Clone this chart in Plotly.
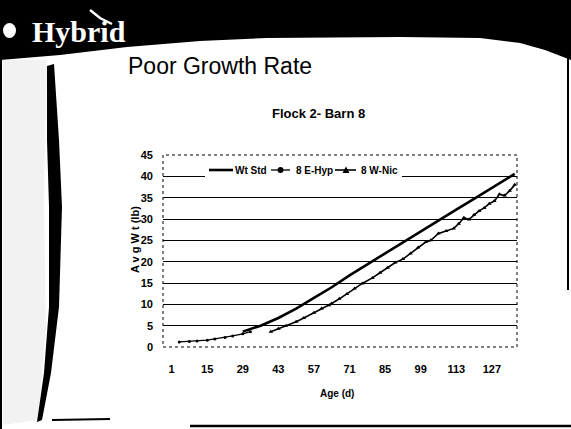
import plotly.graph_objects as go

# ---------------- data ----------------
x_tick_vals = [1, 15, 29, 43, 57, 71, 85, 99, 113, 127]
x_tick_text = ["1", "15", "29", "43", "57", "71", "85", "99", "113", "127"]
y_tick_vals = [0, 5, 10, 15, 20, 25, 30, 35, 40, 45]

std_days = [29, 36, 43, 50, 57, 64, 71, 78, 85, 92, 99, 106, 113, 120, 127, 134, 136]
std_wt = [3.6, 5.0, 6.8, 9.0, 11.5, 14.0, 16.8, 19.4, 22.0, 24.6, 27.1, 29.7, 32.2, 34.7, 37.3, 39.8, 40.6]

ehyp_days = [4, 8, 11, 15, 18, 22, 25, 29, 32]
ehyp_wt = [1.2, 1.3, 1.4, 1.6, 1.9, 2.2, 2.6, 3.1, 3.6]

wnic_days = [40, 43, 46, 50, 53, 57, 60, 63, 64, 67, 70, 73, 76, 80, 83, 86, 89, 92, 95, 98,
             101, 103, 106, 109, 112, 114, 116, 118, 120, 122, 124, 126, 128, 130, 132, 134, 136]
wnic_wt = [3.6, 4.3, 5.0, 5.9, 6.8, 8.0, 9.0, 9.8, 10.2, 11.3, 12.4, 13.7, 14.9, 16.2, 17.4, 18.6, 19.8, 20.6, 21.9, 23.3,
           24.6, 25.0, 26.6, 27.2, 27.8, 28.9, 30.3, 29.9, 31.0, 31.9, 32.6, 33.6, 34.2, 35.8, 35.5, 36.6, 38.0]

series_names = ["Wt Std", "8 E-Hyp", "8 W-Nic"]

# ---------------- layout helpers (pixel -> paper) ----------------
W, H = 571, 429
L, R, T, B = 163, 517, 155, 347
PW, PH = R - L, B - T


def px(x):
    return (x - L) / PW


def py(y):
    return (B - y) / PH


def path(points, close=True):
    s = "M " + " L ".join(f"{px(a):.4f},{py(b):.4f}" for a, b in points)
    return s + (" Z" if close else "")


NARROW = "Liberation Sans Narrow, Arial Narrow, Liberation Sans, sans-serif"

fig = go.Figure()
fig.add_trace(go.Scatter(x=std_days, y=std_wt, name=series_names[0], mode="lines",
                         line=dict(color="black", width=2.6)))
fig.add_trace(go.Scatter(x=ehyp_days, y=ehyp_wt, name=series_names[1], mode="lines+markers",
                         line=dict(color="black", width=1.3),
                         marker=dict(symbol="circle", size=3, color="black")))
fig.add_trace(go.Scatter(x=wnic_days, y=wnic_wt, name=series_names[2], mode="lines+markers",
                         line=dict(color="black", width=1.6),
                         marker=dict(symbol="triangle-up", size=4, color="black")))

shapes = []
# header black band with curved lower edge
header = [(0, 0), (571, 0), (571, 60), (545, 50), (520, 43), (480, 38), (400, 37), (267, 38),
          (200, 41), (127, 47), (60, 55), (0, 60)]
shapes.append(dict(type="path", xref="paper", yref="paper", path=path(header),
                   fillcolor="black", line=dict(width=0), layer="above"))
# left speckled band (approximated as faint grey)
shapes.append(dict(type="path", xref="paper", yref="paper",
                   path=path([(3, 60), (47, 60), (44, 200), (46, 330), (38, 420), (3, 425)]),
                   fillcolor="rgba(0,0,0,0.05)", line=dict(width=0), layer="above"))
# dark streak
streak = [(47, 66), (54, 64), (59, 140), (62, 207), (59, 307), (51, 373), (42, 420), (37, 422),
          (44, 373), (49, 307), (49, 207), (47, 140)]
shapes.append(dict(type="path", xref="paper", yref="paper", path=path(streak),
                   fillcolor="black", line=dict(width=0), layer="above"))
# left edge line
shapes.append(dict(type="line", xref="paper", yref="paper", x0=px(1), x1=px(1), y0=py(0), y1=py(429),
                   line=dict(color="black", width=2), layer="above"))
# right edge line
shapes.append(dict(type="line", xref="paper", yref="paper", x0=px(568), x1=px(568), y0=py(58), y1=py(290),
                   line=dict(color="black", width=2), layer="above"))
# bottom line
shapes.append(dict(type="line", xref="paper", yref="paper", x0=px(190), x1=px(571), y0=py(426), y1=py(426),
                   line=dict(color="black", width=2.5), layer="above"))
# bottom-left small logo scribble
shapes.append(dict(type="line", xref="paper", yref="paper", x0=px(52), x1=px(110), y0=py(420), y1=py(419),
                   line=dict(color="black", width=2), layer="above"))
# white logo blob in header
shapes.append(dict(type="circle", xref="paper", yref="paper", x0=px(3), x1=px(16), y0=py(23), y1=py(38),
                   fillcolor="white", line=dict(width=0), layer="above"))
# swoosh above the i
shapes.append(dict(type="path", xref="paper", yref="paper",
                   path=path([(90, 10), (100, 18), (112, 24)], close=False),
                   line=dict(color="white", width=2.5), layer="above"))
# plot area border (dotted)
shapes.append(dict(type="rect", xref="paper", yref="paper", x0=0, x1=1, y0=0, y1=1,
                   line=dict(color="black", width=1, dash="dot"), layer="below"))

# ---- legend (compact, drawn as key samples + text) ----
LEG_Y = 170
shapes.append(dict(type="rect", xref="paper", yref="paper", x0=px(205), x1=px(402), y0=py(160), y1=py(181),
                   fillcolor="white", line=dict(width=0), layer="above"))
shapes.append(dict(type="line", xref="paper", yref="paper", x0=px(209), x1=px(233), y0=py(LEG_Y), y1=py(LEG_Y),
                   line=dict(color="black", width=2.6), layer="above"))
shapes.append(dict(type="line", xref="paper", yref="paper", x0=px(271), x1=px(290), y0=py(LEG_Y), y1=py(LEG_Y),
                   line=dict(color="black", width=1.3), layer="above"))
shapes.append(dict(type="circle", xref="paper", yref="paper", x0=px(277.5), x1=px(283.5), y0=py(167), y1=py(173),
                   fillcolor="black", line=dict(width=0), layer="above"))
shapes.append(dict(type="line", xref="paper", yref="paper", x0=px(335), x1=px(356), y0=py(LEG_Y), y1=py(LEG_Y),
                   line=dict(color="black", width=1.6), layer="above"))
shapes.append(dict(type="path", xref="paper", yref="paper",
                   path=path([(342.5, 173), (349.5, 173), (346, 166.5)]),
                   fillcolor="black", line=dict(width=0), layer="above"))

annotations = [
    dict(text="Hybrid", x=px(30), y=py(31), xref="paper", yref="paper", xanchor="left", yanchor="middle",
         showarrow=False, font=dict(family="Liberation Serif, DejaVu Serif, serif", size=30,
                                    color="white", weight="bold")),
    dict(text="Poor Growth Rate", x=px(126), y=py(66), xref="paper", yref="paper", xanchor="left",
         yanchor="middle", showarrow=False,
         font=dict(family="Liberation Sans, Arial, sans-serif", size=23, color="black")),
    dict(text="Flock 2- Barn 8", x=px(318), y=py(114), xref="paper", yref="paper", xanchor="center",
         yanchor="middle", showarrow=False, font=dict(family=NARROW, size=13, color="black", weight="bold")),
    dict(text="A v g W t (lb)", x=px(135), y=py(240), xref="paper", yref="paper", xanchor="center",
         yanchor="middle", textangle=-90, showarrow=False,
         font=dict(family=NARROW, size=11, color="black", weight="bold")),
    dict(text="Age (d)", x=px(337), y=py(393), xref="paper", yref="paper", xanchor="center",
         yanchor="middle", showarrow=False, font=dict(family=NARROW, size=10, color="black", weight="bold")),
]
for name, cx in zip(series_names, [251, 314, 379]):
    annotations.append(dict(text=name, x=px(cx), y=py(LEG_Y), xref="paper", yref="paper",
                            xanchor="center", yanchor="middle", showarrow=False,
                            font=dict(family=NARROW, size=10, color="black", weight="bold")))

fig.update_layout(
    width=W, height=H, autosize=False,
    margin=dict(l=L, r=W - R, t=T, b=H - B, pad=0),
    paper_bgcolor="white", plot_bgcolor="white",
    showlegend=False,
    shapes=shapes, annotations=annotations,
    xaxis=dict(range=[-2.4, 136.9], tickmode="array", tickvals=x_tick_vals, ticktext=x_tick_text,
               showgrid=False, zeroline=False, showline=False, ticks="",
               ticklabelstandoff=14,
               tickfont=dict(family=NARROW, size=11, color="black", weight="bold")),
    yaxis=dict(range=[0, 45], tickmode="array", tickvals=y_tick_vals,
               showgrid=True, gridcolor="black", gridwidth=1.4, zeroline=False, showline=False,
               ticks="", ticklabelstandoff=9,
               tickfont=dict(family=NARROW, size=11, color="black", weight="bold")),
)

fig.write_html("out.html", config={"displayModeBar": False},
               post_script="document.body.style.margin='0';document.body.style.overflow='hidden';")
